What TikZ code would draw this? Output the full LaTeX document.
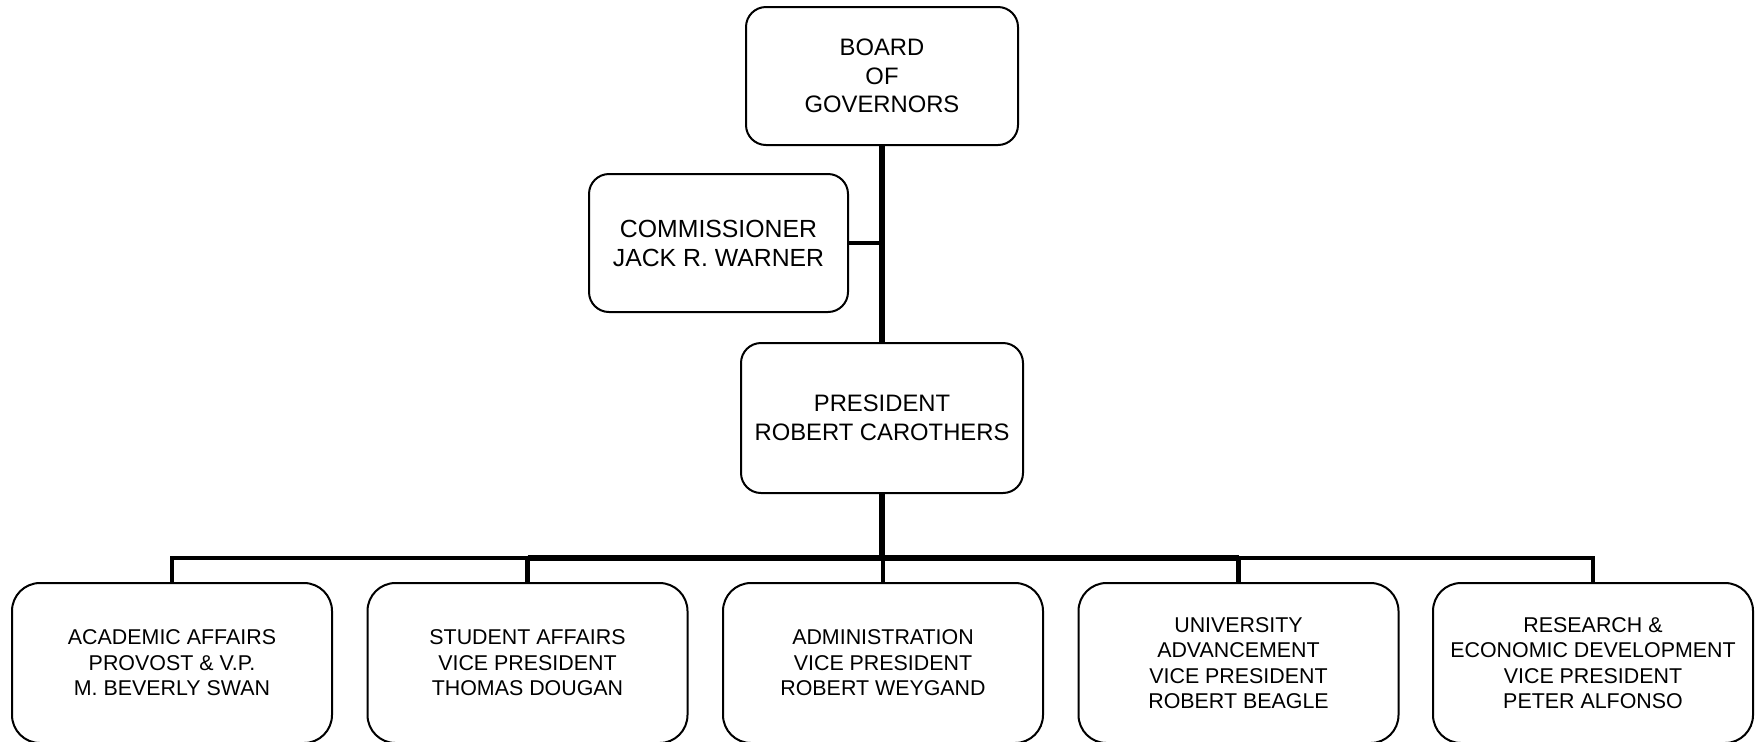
\documentclass[tikz,border=0pt]{standalone}
\usepackage{fontspec}
\setmainfont{Liberation Sans}
\begin{document}
\begin{tikzpicture}[x=0.5pt,y=-0.5pt,
  box/.style={draw, line width=1pt, rounded corners=10pt, align=center, inner sep=0pt},
  topbox/.style={box, font=\fontsize{11.9}{14.3}\selectfont,
    execute at begin node={\rule{0pt}{10.8pt}}},
  unitbox/.style={box, rounded corners=14pt, minimum width=160pt, minimum height=80pt,
    font=\fontsize{10.7}{12.75}\selectfont, execute at begin node={\rule{0pt}{9.9pt}}},
  heavylink/.style={line width=3.3pt},
  lightlink/.style={line width=2.4pt}]
\useasboundingbox (0,0) rectangle (1755,741);
\node[topbox, minimum width=136pt, minimum height=69pt] (board) at (882,76) {BOARD\\OF\\GOVERNORS};
\node[topbox, minimum width=129.5pt, minimum height=69pt, font=\fontsize{12.4}{14.5}\selectfont] (comm) at (718.5,243) {COMMISSIONER\\JACK R. WARNER};
\node[topbox, minimum width=141pt, minimum height=75pt] (pres) at (882,418) {PRESIDENT\\ROBERT CAROTHERS};
\node[unitbox] (u1) at (172,663) {ACADEMIC AFFAIRS\\PROVOST \& V.P.\\M. BEVERLY SWAN};
\node[unitbox] (u2) at (527.5,663) {STUDENT AFFAIRS\\VICE PRESIDENT\\THOMAS DOUGAN};
\node[unitbox] (u3) at (883,663) {ADMINISTRATION\\VICE PRESIDENT\\ROBERT WEYGAND};
\node[unitbox] (u4) at (1238.5,663) {UNIVERSITY\\ADVANCEMENT\\VICE PRESIDENT\\ROBERT BEAGLE};
\node[unitbox] (u5) at (1593,663) {RESEARCH \&\\ECONOMIC DEVELOPMENT\\VICE PRESIDENT\\PETER ALFONSO};
\coordinate (bar) at (882,558);
\draw[heavylink] (board.south) -- (pres.north);
\draw[lightlink] (comm.east) -- (comm.east -| board.south);
\draw[heavylink] (pres.south) -- (pres.south |- bar);
\draw[lightlink] (u1.north) -- (u1.north |- bar) -- (u2.north |- bar) -- (u2.north);
\draw[lightlink] (u4.north) -- (u4.north |- bar) -- (u5.north |- bar) -- (u5.north);
\draw[heavylink] (u2.north |- bar) -- (u4.north |- bar);
\draw[lightlink] (u3.north |- bar) -- (u3.north);
\end{tikzpicture}
\end{document}
